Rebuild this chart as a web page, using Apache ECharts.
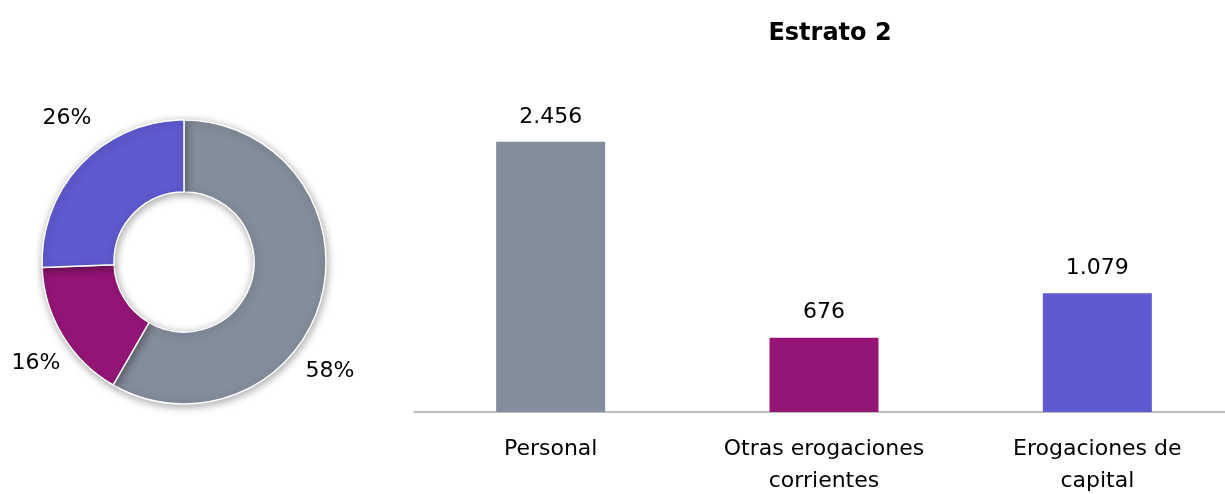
<!DOCTYPE html>
<html><head><meta charset="utf-8">
<script src="https://cdn.jsdelivr.net/npm/echarts@6/dist/echarts.min.js"></script>
<style>html,body{margin:0;padding:0;background:#fff}#c{width:1225px;height:494px}</style>
</head><body><div id="c"></div>
<script>
const categories = ['Personal', 'Otras erogaciones\ncorrientes', 'Erogaciones de\ncapital'];
const values = [2456, 676, 1079];
const colors = ['#848D9B', '#951577', '#5E5ACF'];
const titleText = 'Estrato 2';

const fontFam = '"DejaVu Sans", "Noto Sans", sans-serif';
const fmt = v => v.toLocaleString('de-DE');
const total = values.reduce((a, b) => a + b, 0);
const pieLabelPos = [[330, 371], [36, 363], [67, 118]];

const chart = echarts.init(document.getElementById('c'), null, {renderer: 'canvas'});
chart.setOption({
  animation: false,
  title: {text: titleText, left: 825, top: 17, textAlign: 'center',
    textStyle: {fontFamily: fontFam, fontWeight: 'bold', fontSize: 24, color: '#000'}},
  grid: {left: 414, right: -9, top: 82, bottom: 82, containLabel: false, outerBoundsMode: 'none'},
  xAxis: {type: 'category', data: categories,
    axisLine: {lineStyle: {color: '#a6a6a6', width: 1.5}},
    axisTick: {show: false},
    axisLabel: {fontFamily: fontFam, fontSize: 22, color: '#000', margin: 21, lineHeight: 32, interval: 0}},
  yAxis: {type: 'value', min: 0, max: 3000, show: false, splitLine: {show: false}},
  series: [
    {type: 'bar', barWidth: 109,
      data: values.map((v, i) => ({value: v, itemStyle: {color: colors[i]}})),
      label: {show: true, position: 'top', distance: 14, fontFamily: fontFam, fontSize: 22, color: '#000',
        formatter: p => fmt(p.value)}},
    {type: 'pie', center: [184, 262], radius: [70, 142], startAngle: 90, clockwise: true,
      avoidLabelOverlap: false,
      data: values.map((v, i) => ({value: v, name: categories[i], itemStyle: {color: colors[i]}})),
      itemStyle: {borderColor: '#fff', borderWidth: 1.5, shadowBlur: 8, shadowColor: 'rgba(0,0,0,0.35)', shadowOffsetX: 1, shadowOffsetY: 2},
      label: {show: true, position: 'outside', overflow: 'none', fontFamily: fontFam, fontSize: 22, color: '#000',
        formatter: p => Math.round(p.value / total * 100) + '%'},
      labelLine: {show: false},
      labelLayout: p => ({x: pieLabelPos[p.dataIndex][0], y: pieLabelPos[p.dataIndex][1], align: 'center', verticalAlign: 'middle', hideOverlap: false}),
      emphasis: {disabled: true}}
  ]
});
</script></body></html>
